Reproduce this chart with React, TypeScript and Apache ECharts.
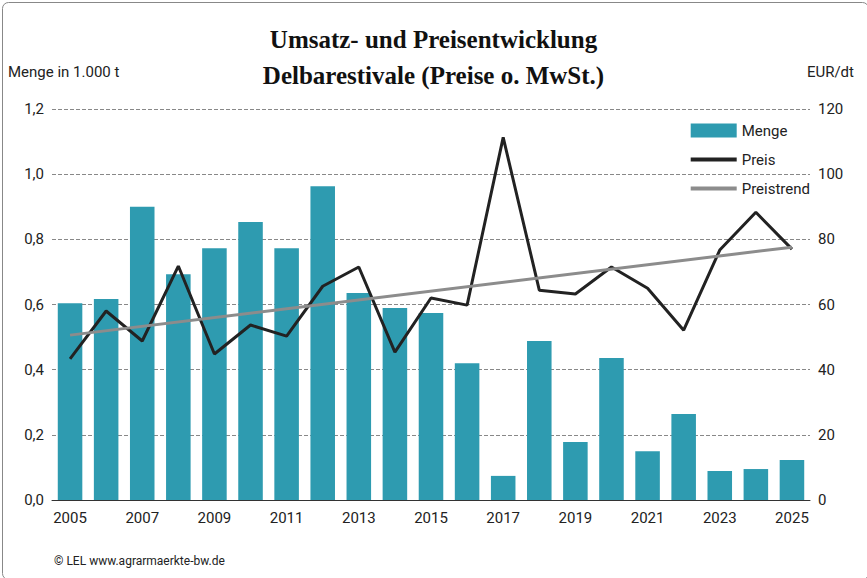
import React, { useEffect, useRef } from 'react';
import * as echarts from 'echarts';

const years = ['2005','2006','2007','2008','2009','2010','2011','2012','2013','2014','2015','2016','2017','2018','2019','2020','2021','2022','2023','2024','2025'];
const menge = [0.604,0.617,0.90,0.693,0.773,0.853,0.773,0.963,0.635,0.589,0.574,0.42,0.074,0.488,0.178,0.436,0.15,0.264,0.089,0.095,0.123];
const preis = [43.3,58,48.8,71.8,44.8,53.7,50.3,65.6,71.5,45.4,62,59.8,111.3,64.4,63.2,71.5,65,52.1,76.7,88.3,77];
const trendStart = 50.6;
const trendEnd = 77.6;
const leftTicks = ['0,0','0,2','0,4','0,6','0,8','1,0','1,2'];

const lineIcon = 'path://M0,0H48V4H0Z';

const App: React.FC = () => {
  const ref = useRef<HTMLDivElement>(null);
  useEffect(() => {
    if (!ref.current) return;
    const chart = echarts.init(ref.current, null, { renderer: 'svg' });
    const trend = years.map((_, i) => (i === 0 ? trendStart : i === years.length - 1 ? trendEnd : null));
    const font = 'Roboto, Arial, sans-serif';
    chart.setOption({
      animation: false,
      textStyle: { fontFamily: font },
      title: {
        text: 'Umsatz- und Preisentwicklung\nDelbarestivale (Preise o. MwSt.)',
        left: 'center', top: 16,
        textStyle: { fontFamily: '"Liberation Serif", "DejaVu Serif", serif', fontWeight: 'bold', fontSize: 25, lineHeight: 36, color: '#111' },
      },
      legend: {
        right: 52, top: 118, orient: 'vertical', itemGap: 14,
        itemWidth: 46, itemHeight: 14, itemGap: 14,
        textStyle: { fontSize: 15, color: '#222' },
        data: [
          { name: 'Menge', icon: 'rect' },
          { name: 'Preis', icon: lineIcon },
          { name: 'Preistrend', icon: lineIcon },
        ],
      },
      grid: { left: 52, right: 57, top: 109, bottom: 78, containLabel: false },
      xAxis: {
        type: 'category', data: years,
        axisLine: { lineStyle: { color: '#333' } },
        axisTick: { show: false },
        axisLabel: { interval: 1, fontSize: 15, color: '#222', margin: 10 },
      },
      yAxis: [
        {
          type: 'value', min: 0, max: 1.2, interval: 0.2,
          name: 'Menge in 1.000 t', nameLocation: 'end', nameGap: 30,
          nameTextStyle: { fontSize: 15, color: '#222', align: 'left', padding: [0, 0, 0, -44] },
          axisLabel: { fontSize: 15, color: '#222', formatter: (v: number) => leftTicks[Math.round(v * 5)] },
          splitLine: { lineStyle: { type: 'dashed', color: '#888' } },
        },
        {
          type: 'value', min: 0, max: 120, interval: 20,
          name: 'EUR/dt', nameLocation: 'end', nameGap: 30,
          nameTextStyle: { fontSize: 15, color: '#222', align: 'right', padding: [0, -44, 0, 0] },
          axisLabel: { fontSize: 15, color: '#222' },
          splitLine: { show: false },
        },
      ],
      series: [
        { name: 'Menge', type: 'bar', data: menge, barWidth: '68%', itemStyle: { color: '#2e9bb0' } },
        { name: 'Preis', type: 'line', yAxisIndex: 1, data: preis, symbol: 'none', lineStyle: { color: '#222', width: 3 }, itemStyle: { color: '#222' } },
        { name: 'Preistrend', type: 'line', yAxisIndex: 1, data: trend, connectNulls: true, symbol: 'none', lineStyle: { color: '#8c8c8c', width: 3 }, itemStyle: { color: '#8c8c8c' } },
      ],
      graphic: [
        { type: 'rect', left: 0, top: 0, shape: { width: 866, height: 577, r: 6 }, style: { fill: 'none', stroke: '#888', lineWidth: 1 } },
        { type: 'text', left: 54, top: 555, style: { text: '© LEL www.agrarmaerkte-bw.de', fontSize: 12, fill: '#222', fontFamily: font } },
      ],
    });
    return () => { chart.dispose(); };
  }, []);
  return <div ref={ref} style={{ position: 'absolute', left: 0, top: 0, width: 867, height: 578 }} />;
};

export default App;
